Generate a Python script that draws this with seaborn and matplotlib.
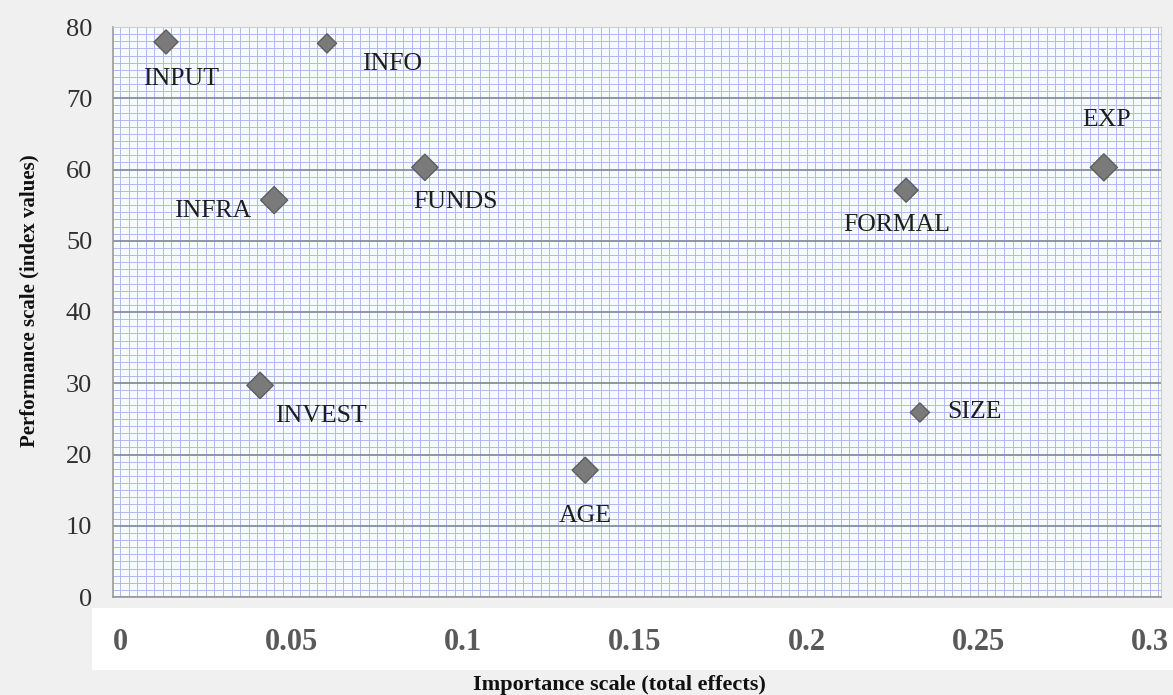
import numpy as np
import pandas as pd
import matplotlib
matplotlib.use("Agg")
import matplotlib.pyplot as plt
from matplotlib.patches import Rectangle
from matplotlib.ticker import MultipleLocator
import seaborn as sns

# ---- data ----
labels = ["INPUT", "INFO", "INFRA", "FUNDS", "INVEST", "AGE", "SIZE", "FORMAL", "EXP"]
importance = [0.0134, 0.0603, 0.0449, 0.0888, 0.0408, 0.1355, 0.2330, 0.2290, 0.2866]
performance = [77.9, 77.7, 55.7, 60.3, 29.7, 17.8, 25.9, 57.1, 60.3]
x_ticks = [0, 0.05, 0.1, 0.15, 0.2, 0.25, 0.3]
x_tick_labels = ["0", "0.05", "0.1", "0.15", "0.2", "0.25", "0.3"]
y_ticks = [0, 10, 20, 30, 40, 50, 60, 70, 80]

# ---- styling (marker areas and label offsets in points) ----
marker_area = {"INPUT": 150, "INFO": 95, "INFRA": 190, "FUNDS": 180, "INVEST": 180,
               "AGE": 175, "SIZE": 95, "FORMAL": 150, "EXP": 190}
label_offset = {"INPUT": (11, -27), "INFO": (47, -15), "INFRA": (-44, -8),
                "FUNDS": (22, -25), "INVEST": (44, -22), "AGE": (0, -33),
                "SIZE": (39, 0), "FORMAL": (-7, -25), "EXP": (2, 34)}

df = pd.DataFrame({"label": labels, "importance": importance, "performance": performance})

sns.set_style("white")
plt.rcParams["font.family"] = ["Liberation Serif", "DejaVu Serif"]

W, H = 1173, 695
fig = plt.figure(figsize=(W / 100, H / 100), dpi=100, facecolor="#f0f0f0")

# white band behind x tick labels
fig.patches.append(Rectangle((92 / W, 1 - 670 / H), (W - 92) / W, (670 - 608) / H,
                             transform=fig.transFigure, facecolor="white",
                             edgecolor="none", zorder=-5))

ax = fig.add_axes([113 / W, 1 - 597 / H, (1161 - 113) / W, (597 - 27) / H])
ax.set_facecolor("#f7fbff")

sns.scatterplot(data=df, x="importance", y="performance", size="label",
                sizes=marker_area, marker="D", color="#7a7a7a",
                edgecolor="#5e5e5e", linewidth=1.0, legend=False, ax=ax, zorder=5)

for lab, xv, yv in zip(labels, importance, performance):
    dx, dy = label_offset[lab]
    ax.annotate(lab, (xv, yv), xytext=(dx, dy), textcoords="offset points",
                ha="center", va="center", fontsize=18.5, color="#1e1e1e", zorder=6)

ax.set_xlim(-0.00204, 0.30324)
ax.set_ylim(0, 80)

ax.xaxis.set_minor_locator(MultipleLocator(0.0025))
ax.yaxis.set_minor_locator(MultipleLocator(1))
ax.set_xticks(x_ticks)
ax.set_yticks(y_ticks)
ax.set_xticklabels(x_tick_labels, fontweight="bold", fontsize=22, color="#595959")
ax.set_yticklabels([str(v) for v in y_ticks], fontsize=19, color="#303030")

ax.grid(which="minor", axis="both", color="#adbaec", linewidth=0.7)
ax.grid(which="major", axis="x", color="#adbaec", linewidth=0.7)
ax.grid(which="major", axis="y", color="#7d8596", linewidth=1.2)
ax.set_axisbelow(True)

ax.tick_params(axis="x", which="both", length=0, pad=22)
ax.tick_params(axis="y", which="both", length=0, pad=15)

for side in ["left", "bottom"]:
    ax.spines[side].set_color("#9a9a9a")
    ax.spines[side].set_linewidth(1.2)
for side in ["top", "right"]:
    ax.spines[side].set_color("#d0d0d0")
    ax.spines[side].set_linewidth(0.8)

ax.set_xlabel("")
ax.set_ylabel("")
fig.text(619 / W, 1 - 685 / H, "Importance scale (total effects)", ha="center", va="center",
         fontsize=16, fontweight="bold", color="#111111")
fig.text(29 / W, 1 - 301 / H, "Performance scale (index values)", ha="center", va="center",
         rotation=90, fontsize=15, fontweight="bold", color="#111111")

fig.savefig("out.png", dpi=100, facecolor=fig.get_facecolor())
